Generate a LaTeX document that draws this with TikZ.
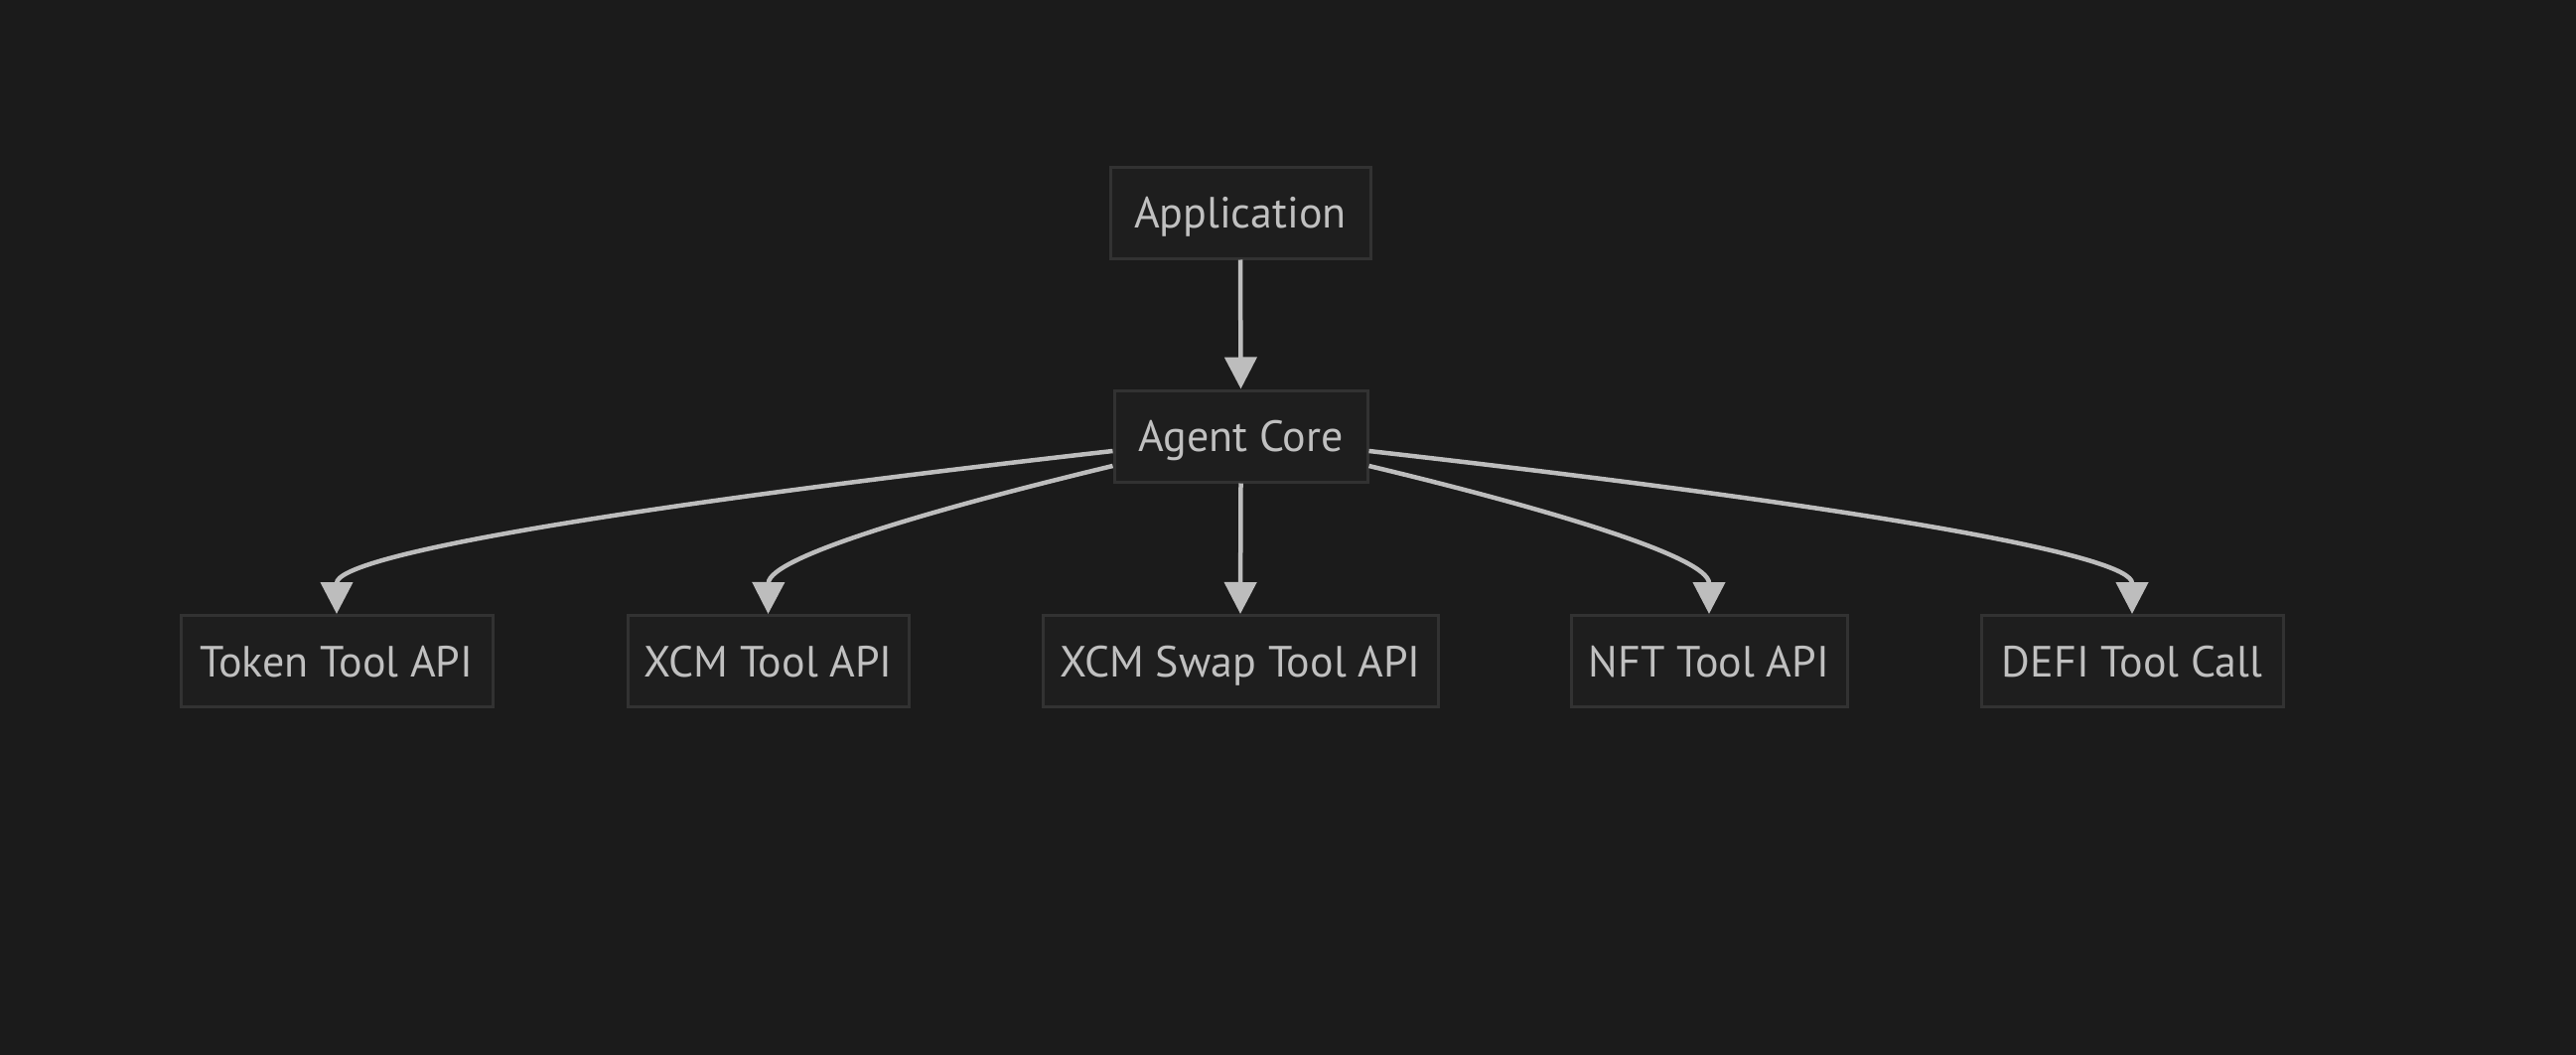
\documentclass[tikz,border=0pt]{standalone}
\usepackage{fontspec}
\setmainfont{PT Sans}
\usetikzlibrary{arrows.meta}
\definecolor{bg}{HTML}{1B1B1B}
\definecolor{boxfill}{HTML}{1E1E1E}
\definecolor{boxline}{HTML}{323232}
\definecolor{txt}{HTML}{C0C0C0}
\definecolor{edge}{HTML}{BDBDBD}
\tikzset{
  box/.style={draw=boxline, fill=boxfill, line width=3pt, minimum height=92pt,
    inner sep=0pt, text height=31pt, text depth=0pt, text=txt,
    font=\fontsize{44}{52}\selectfont},
  conn/.style={draw=edge, line width=4.5pt,
    -{Triangle[width=32pt,length=32pt]}}
}
\begin{document}
\begin{tikzpicture}[x=1pt,y=-1pt]
\fill[bg] (0,0) rectangle (2594,1062);
\useasboundingbox (0,0) rectangle (2594,1062);
\node[box, minimum width=262pt] (app) at (1249,214) {Application};
\node[box, minimum width=255pt] (core) at (1249.5,439) {Agent Core};
\node[box, minimum width=314pt] (token) at (339,665.5) {Token Tool API};
\node[box, minimum width=283pt] (xcm) at (773.5,665.5) {XCM Tool API};
\node[box, minimum width=398pt] (swap) at (1249,665.5) {XCM Swap Tool API};
\node[box, minimum width=278pt] (nft) at (1721,665.5) {NFT Tool API};
\node[box, minimum width=304pt] (defi) at (2147,665.5) {DEFI Tool Call};
\draw[conn] (app.south) -- (core.north);
\draw[conn] (core.south) -- (swap.north);
\draw[conn] ([yshift=-15pt]core.west) .. controls (600,513) and (339,560) .. (token.north);
\draw[conn] ([yshift=-30pt]core.west) .. controls (950,510) and (774,560) .. (xcm.north);
\draw[conn] ([yshift=-30pt]core.east) .. controls (1550,510) and (1721,560) .. (nft.north);
\draw[conn] ([yshift=-15pt]core.east) .. controls (1900,513) and (2147,560) .. (defi.north);
\end{tikzpicture}
\end{document}
